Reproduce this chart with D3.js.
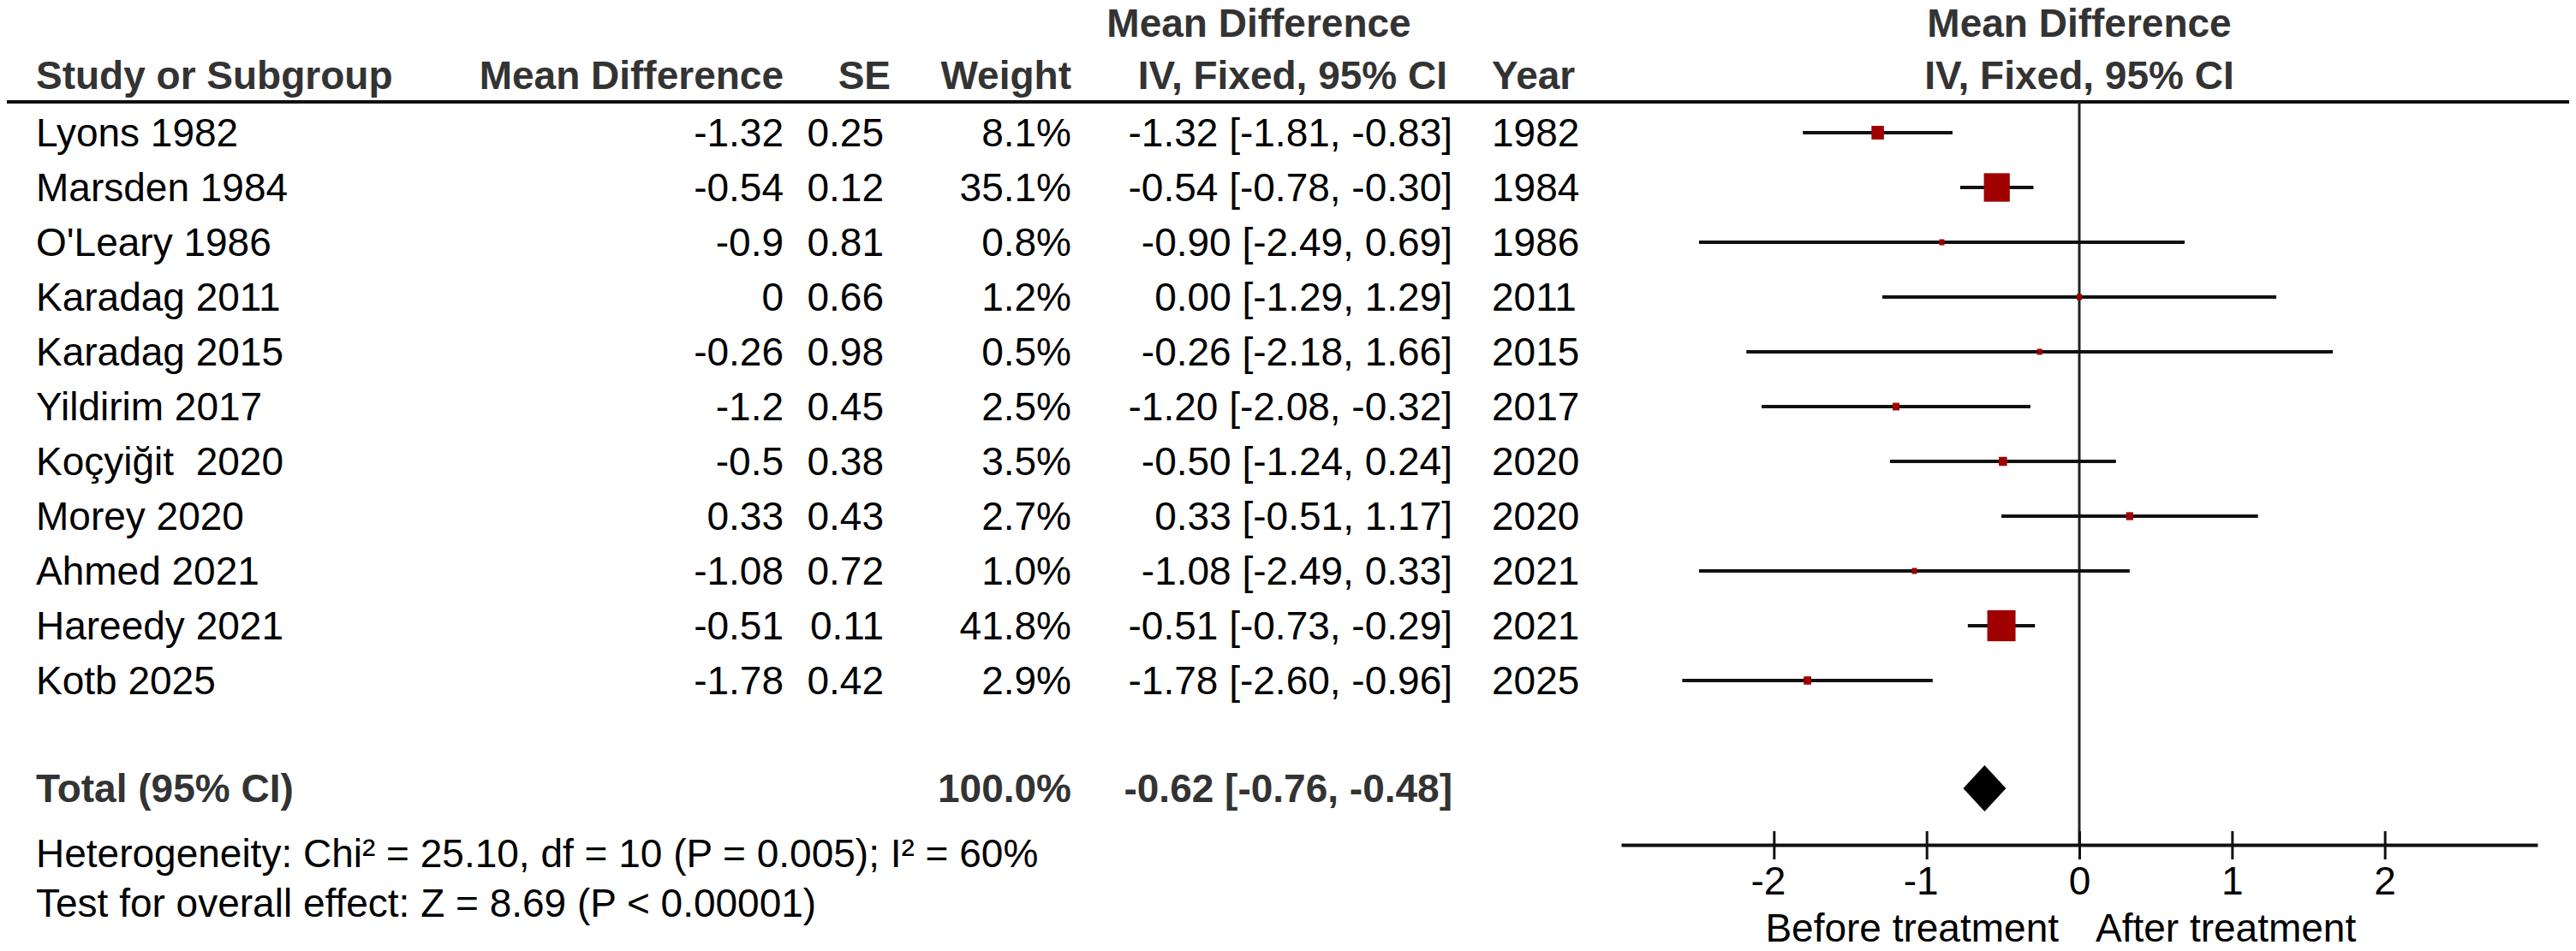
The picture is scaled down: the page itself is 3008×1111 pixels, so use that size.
<!DOCTYPE html>
<html>
<head>
<meta charset="utf-8">
<script src="https://cdn.jsdelivr.net/npm/d3@7"></script>
<style>
  html, body { margin: 0; padding: 0; background: #fff; }
  svg { display: block; }
  text { font-family: "Liberation Sans", Arial, sans-serif; font-size: 46px; fill: #000; white-space: pre; }
  .bold { font-weight: bold; fill: #333; }
</style>
</head>
<body>
<svg id="chart" width="3008" height="1111"></svg>
<script>
// ---- data ----
const studies   = ["Lyons 1982", "Marsden 1984", "O'Leary 1986", "Karadag 2011", "Karadag 2015", "Yildirim 2017", "Koçyiğit  2020", "Morey 2020", "Ahmed 2021", "Hareedy 2021", "Kotb 2025"];
const meanDiff  = [-1.32, -0.54, -0.9, 0, -0.26, -1.2, -0.5, 0.33, -1.08, -0.51, -1.78];
const seVals    = [0.25, 0.12, 0.81, 0.66, 0.98, 0.45, 0.38, 0.43, 0.72, 0.11, 0.42];
const weights   = [8.1, 35.1, 0.8, 1.2, 0.5, 2.5, 3.5, 2.7, 1.0, 41.8, 2.9];
const ciLow     = [-1.81, -0.78, -2.49, -1.29, -2.18, -2.08, -1.24, -0.51, -2.49, -0.73, -2.60];
const ciHigh    = [-0.83, -0.30, 0.69, 1.29, 1.66, -0.32, 0.24, 1.17, 0.33, -0.29, -0.96];
const years     = [1982, 1984, 1986, 2011, 2015, 2017, 2020, 2020, 2021, 2021, 2025];
const total     = { md: -0.62, lo: -0.76, hi: -0.48, weight: "100.0%" };
const xTicks    = [-2, -1, 0, 1, 2];
const heteroText = "Heterogeneity: Chi\u00B2 = 25.10, df = 10 (P = 0.005); I\u00B2 = 60%";
const overallText = "Test for overall effect: Z = 8.69 (P < 0.00001)";

// ---- layout ----
const svg = d3.select("#chart");
const x = d3.scaleLinear().domain([-3, 3]).range([1893, 2963]);
const y = d3.scalePoint().domain(d3.range(studies.length)).range([155, 795]);
const totalY = 921;
const axisY = 987;
const boxSide = d3.scaleSqrt().domain([0, 41.8]).range([0, 33]);
const base = 16; // baseline offset from row centre

const loc = d3.formatLocale({ decimal: ".", thousands: ",", grouping: [3], currency: ["", ""], minus: "-" });
const fmt2 = loc.format(".2f");
const fmt1 = loc.format(".1f");
const fmtD = loc.format("d");
const fmtCI = (m, l, h) => `${fmt2(m)} [${fmt2(l)}, ${fmt2(h)}]`.replace(/-0\.00/g, "0.00");

// headers
const hdr = svg.append("g");
hdr.append("text").attr("class", "bold").attr("x", 1470).attr("y", 27 + base).attr("text-anchor", "middle").text("Mean Difference");
hdr.append("text").attr("class", "bold").attr("x", x(0)).attr("y", 27 + base).attr("text-anchor", "middle").text("Mean Difference");
const h2 = 88 + base;
hdr.append("text").attr("class", "bold").attr("x", 42).attr("y", h2).text("Study or Subgroup");
hdr.append("text").attr("class", "bold").attr("x", 915).attr("y", h2).attr("text-anchor", "end").text("Mean Difference");
hdr.append("text").attr("class", "bold").attr("x", 1040).attr("y", h2).attr("text-anchor", "end").text("SE");
hdr.append("text").attr("class", "bold").attr("x", 1251).attr("y", h2).attr("text-anchor", "end").text("Weight");
hdr.append("text").attr("class", "bold").attr("x", 1690).attr("y", h2).attr("text-anchor", "end").text("IV, Fixed, 95% CI");
hdr.append("text").attr("class", "bold").attr("x", 1742).attr("y", h2).text("Year");
hdr.append("text").attr("class", "bold").attr("x", x(0)).attr("y", h2).attr("text-anchor", "middle").text("IV, Fixed, 95% CI");

// header rule
svg.append("line").attr("x1", 8).attr("x2", 3000).attr("y1", 119).attr("y2", 119)
  .attr("stroke", "#111").attr("stroke-width", 4);

// zero line
svg.append("line").attr("x1", x(0)).attr("x2", x(0)).attr("y1", 119).attr("y2", axisY)
  .attr("stroke", "#222").attr("stroke-width", 3);

// rows
const rows = svg.append("g").selectAll("g").data(d3.range(studies.length)).join("g");
rows.append("text").attr("x", 42).attr("y", i => y(i) + base).text(i => studies[i]);
rows.append("text").attr("x", 915).attr("y", i => y(i) + base).attr("text-anchor", "end").text(i => String(meanDiff[i]));
rows.append("text").attr("x", 1032).attr("y", i => y(i) + base).attr("text-anchor", "end").text(i => String(seVals[i]));
rows.append("text").attr("x", 1251).attr("y", i => y(i) + base).attr("text-anchor", "end").text(i => fmt1(weights[i]) + "%");
rows.append("text").attr("x", 1696).attr("y", i => y(i) + base).attr("text-anchor", "end").text(i => fmtCI(meanDiff[i], ciLow[i], ciHigh[i]));
rows.append("text").attr("x", 1742).attr("y", i => y(i) + base).text(i => years[i]);

// CI lines and boxes
rows.append("line")
  .attr("x1", i => x(ciLow[i])).attr("x2", i => x(ciHigh[i]))
  .attr("y1", i => y(i)).attr("y2", i => y(i))
  .attr("stroke", "#111").attr("stroke-width", 4);
rows.append("rect")
  .attr("x", i => x(meanDiff[i]) - Math.max(6, boxSide(weights[i])) / 2)
  .attr("y", i => y(i) - Math.max(7, boxSide(weights[i]) * 1.1) / 2)
  .attr("width", i => Math.max(6, boxSide(weights[i])))
  .attr("height", i => Math.max(7, boxSide(weights[i]) * 1.1))
  .attr("fill", "#a00000");

// total row
svg.append("text").attr("class", "bold").attr("x", 42).attr("y", totalY + base).text("Total (95% CI)");
svg.append("text").attr("class", "bold").attr("x", 1251).attr("y", totalY + base).attr("text-anchor", "end").text(total.weight);
svg.append("text").attr("class", "bold").attr("x", 1696).attr("y", totalY + base).attr("text-anchor", "end").text(fmtCI(total.md, total.lo, total.hi));
svg.append("path")
  .attr("d", `M${x(total.lo)},${totalY} L${x(total.md)},${totalY - 27} L${x(total.hi)},${totalY} L${x(total.md)},${totalY + 27} Z`)
  .attr("fill", "#000");

// footnotes
svg.append("text").attr("x", 42).attr("y", 997 + base).text(heteroText);
svg.append("text").attr("x", 42).attr("y", 1055 + base).text(overallText);

// axis
const axis = d3.axisBottom(x).tickValues(xTicks).tickFormat(fmtD).tickSizeOuter(0);
const ag = svg.append("g").attr("transform", `translate(0,${axisY})`).call(axis);
ag.select(".domain").attr("stroke", "#111").attr("stroke-width", 4);
ag.selectAll(".tick line").attr("y1", -16).attr("y2", 17).attr("stroke", "#111").attr("stroke-width", 3);
ag.selectAll(".tick text").attr("y", 58).attr("dy", 0)
  .attr("dx", d => d < 0 ? -7 : 0)
  .style("font-family", "'Liberation Sans', Arial, sans-serif").style("font-size", "46px").attr("fill", "#000");

svg.append("text").attr("x", x(0) - 24).attr("y", 1084 + base).attr("text-anchor", "end").text("Before treatment");
svg.append("text").attr("x", x(0) + 19).attr("y", 1084 + base).text("After treatment");
</script>
</body>
</html>
